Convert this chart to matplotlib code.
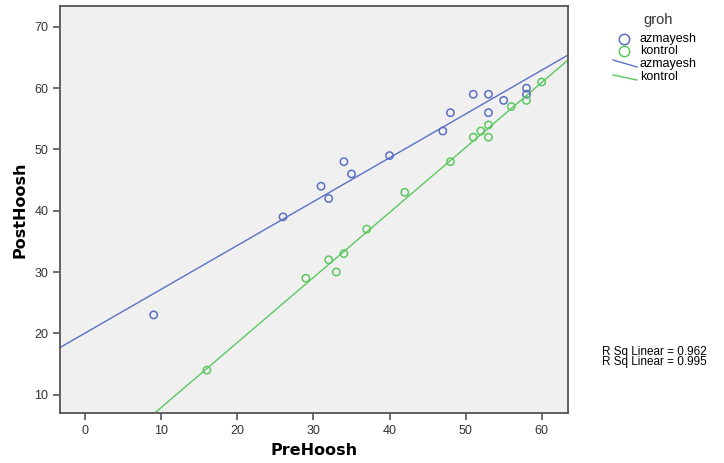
import matplotlib
matplotlib.use("Agg")
import matplotlib.pyplot as plt
from matplotlib.lines import Line2D
import numpy as np

# data
pre_azmayesh = [9, 26, 31, 32, 34, 35, 40, 47, 48, 51, 53, 53, 55, 58, 58]
post_azmayesh = [23, 39, 44, 42, 48, 46, 49, 53, 56, 59, 59, 56, 58, 60, 59]
pre_kontrol = [16, 29, 32, 33, 34, 37, 42, 48, 51, 52, 53, 53, 56, 58, 60]
post_kontrol = [14, 29, 32, 30, 33, 37, 43, 48, 52, 53, 54, 52, 57, 58, 61]
r2_labels = ["R Sq Linear = 0.962", "R Sq Linear = 0.995"]

blue = "#5b6fc4"
green = "#5cc862"
spine_col = "#555555"

plt.rcParams["font.family"] = ["Liberation Sans", "DejaVu Sans"]

fig = plt.figure(figsize=(7.24, 4.63), dpi=100)
ax = fig.add_axes([0.083, 0.108, 0.702, 0.879])
ax.set_facecolor("#f0f0f0")

ax.scatter(pre_azmayesh, post_azmayesh, s=28, facecolors="none",
           edgecolors=blue, linewidths=1.1, zorder=3)
ax.scatter(pre_kontrol, post_kontrol, s=28, facecolors="none",
           edgecolors=green, linewidths=1.1, zorder=3)

xlim = (-3.3, 63.5)
xs = np.array(xlim)
for px, py, c in [(pre_azmayesh, post_azmayesh, blue),
                  (pre_kontrol, post_kontrol, green)]:
    m, b = np.polyfit(px, py, 1)
    ax.plot(xs, m * xs + b, color=c, lw=1.0, zorder=2)

ax.set_xlim(*xlim)
ax.set_ylim(7.0, 73.4)
ax.set_xticks(range(0, 61, 10))
ax.set_yticks(range(10, 71, 10))
for s in ax.spines.values():
    s.set_color(spine_col)
    s.set_linewidth(1.3)
ax.tick_params(axis="both", direction="out", length=5, width=1.2,
               color=spine_col, labelsize=9, labelcolor="#333333")

ax.set_xlabel("PreHoosh", fontsize=11.5, fontweight="bold", family="DejaVu Sans",
              va="center")
ax.set_ylabel("PostHoosh", fontsize=11.5, fontweight="bold", family="DejaVu Sans",
              va="center")
ax.xaxis.set_label_coords(0.5, -0.091)
ax.yaxis.set_label_coords(-0.079, 0.5)

# legend drawn by hand, SPSS style
def fx(px):
    return px / 724

def fy(py):
    return 1 - py / 463

fig.text(fx(658), fy(20), "groh", fontsize=10.5, ha="center", va="center",
         color="#333333")
fig.add_artist(Line2D([fx(624)], [fy(39)], marker="o", ms=7.5, mfc="none",
                      mec=blue, mew=1.1, ls="none"))
fig.add_artist(Line2D([fx(624)], [fy(51)], marker="o", ms=7.5, mfc="none",
                      mec=green, mew=1.1, ls="none"))
fig.add_artist(Line2D([fx(613), fx(637)], [fy(60), fy(67)], color=blue, lw=1))
fig.add_artist(Line2D([fx(613), fx(637)], [fy(75), fy(80)], color=green, lw=1))
for y, t in [(39, "azmayesh"), (51, "kontrol"), (64, "azmayesh"), (77, "kontrol")]:
    fig.text(fx(640), fy(y), t, fontsize=9, ha="left", va="center", color="black")

fig.text(fx(602), fy(357), "\n".join(r2_labels), fontsize=8.5, ha="left",
         va="center", linespacing=0.85)

fig.savefig("out.png", dpi=100)
plt.close()
